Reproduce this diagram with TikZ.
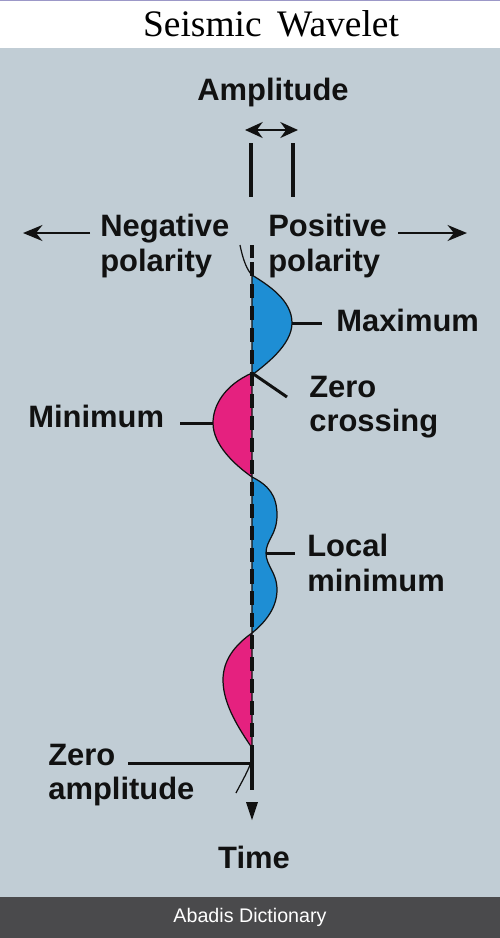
\documentclass[tikz,border=0pt]{standalone}
\usepackage{fontspec}
\setmainfont{Liberation Sans}
\setsansfont{Liberation Sans}
\newfontfamily\titlefont{Liberation Serif}
\usepackage{xcolor}
\usetikzlibrary{arrows.meta,positioning}
\definecolor{panel}{HTML}{C1CDD5}
\definecolor{footer}{HTML}{4A4A4C}
\definecolor{rim}{HTML}{9C98C8}
\definecolor{posblue}{HTML}{1E8ED4}
\definecolor{negpink}{HTML}{E5217F}
\definecolor{ink}{HTML}{111111}
\tikzset{
  lbl/.style={
    font=\sffamily\bfseries\fontsize{17.6}{19.5}\selectfont,
    text=ink, align=left, inner sep=0pt
  },
  leader/.style={draw=ink, line width=1.7pt},
  lobe/.style={fill=#1, draw=ink, line width=0.7pt},
  lobe/.default=posblue,
  polarrow/.style={-{Stealth[length=11pt,width=9pt]}, draw=ink, line width=1.6pt},
  axisline/.style={draw=ink, line width=2pt},
}
\begin{document}
\begin{tikzpicture}[x=0.02cm,y=-0.02cm]
\useasboundingbox (0,0) rectangle (500,938);

% ── bands ──
\fill[white] (0,0) rectangle (500,48);
\fill[panel] (0,48) rectangle (500,897);
\fill[footer] (0,897) rectangle (500,938);
\draw[rim, line width=1pt] (0,0.5) -- (500,0.5);
\node (title) at (271,24) {\titlefont\fontsize{21.3}{24}\selectfont Seismic\, Wavelet};
\node[text=white, font=\fontsize{11.2}{13}\selectfont] (credit) at (250,917) {Abadis Dictionary};

% ── amplitude scale ──
\node[lbl] (amp) at (273,92) {Amplitude};
\coordinate (ampL) at (245,130);
\coordinate (ampR) at (298,130);
\draw[{Stealth[length=10pt,width=9pt]}-{Stealth[length=10pt,width=9pt]}, draw=ink, line width=1.6pt] (ampL) -- (ampR);
\draw[axisline] (251,143) -- (251,197);
\draw[axisline] (293,143) -- (293,197);

% ── polarity ──
\node[lbl, anchor=west] (neg) at (100,246) {Negative\\polarity};
\node[lbl, anchor=west] (pos) at (268,246) {Positive\\polarity};
\coordinate (negend) at (23,233);
\coordinate (posend) at (467,233);
\draw[polarrow] (90,233) -- (negend);
\draw[polarrow] (398,233) -- (posend);

% ── wavelet ──
\draw[ink, line width=0.7pt] (240,245) .. controls (243,260) and (247,270) .. (252,275);
\path[lobe] (252,275) .. controls (268,285) and (292,300) .. (292,323)
  .. controls (292,345) and (265,365) .. (252,375) -- cycle;
\path[lobe=negpink] (252,373) .. controls (225,385) and (213,405) .. (213,423)
  .. controls (213,445) and (235,465) .. (252,477) -- cycle;
\path[lobe] (252,477) .. controls (268,485) and (277,495) .. (277,515)
  .. controls (277,535) and (266,540) .. (266,553)
  .. controls (266,566) and (277,572) .. (277,590)
  .. controls (277,610) and (262,625) .. (252,633) -- cycle;
\path[lobe=negpink] (252,633) .. controls (235,645) and (223,660) .. (223,680)
  .. controls (223,705) and (240,730) .. (252,748) -- cycle;
\draw[ink, line width=0.7pt] (250,765) .. controls (246,775) and (240,785) .. (236,793);

% time axis
\draw[axisline] (252,245) -- (252,258);
\draw[axisline, dash pattern=on 8pt off 4.5pt] (252,262) -- (252,748);
\draw[axisline] (252,748) -- (252,790);
\fill[ink] (246,802) -- (258,802) -- (252,820) -- cycle;
\node[lbl] (time) at (254,857) {Time};

% ── labels and leaders ──
\coordinate (maxpt) at (292,323);
\coordinate (maxend) at (322,323);
\node[lbl, anchor=west] (maxlbl) at (336,320) {Maximum};
\draw[leader] (maxpt) -- (maxend);

\coordinate (zcpt) at (252,373);
\coordinate (zcend) at (287,397);
\node[lbl, anchor=west] (zclbl) at (309,407) {Zero\\crossing};
\draw[leader] (zcpt) -- (zcend);

\coordinate (minpt) at (213,423);
\coordinate (minend) at (180,423);
\node[lbl, anchor=west] (minlbl) at (28,416) {Minimum};
\draw[leader] (minpt) -- (minend);

\coordinate (lmpt) at (266,553);
\coordinate (lmend) at (295,553);
\node[lbl, anchor=west] (lmlbl) at (307,563) {Local\\minimum};
\draw[leader] (lmpt) -- (lmend);

\coordinate (zapt) at (252,763);
\coordinate (zaend) at (128,763);
\node[lbl, anchor=west] (zalbl) at (48,775) {Zero\\amplitude};
\draw[leader] (zapt) -- (zaend);
\end{tikzpicture}
\end{document}
